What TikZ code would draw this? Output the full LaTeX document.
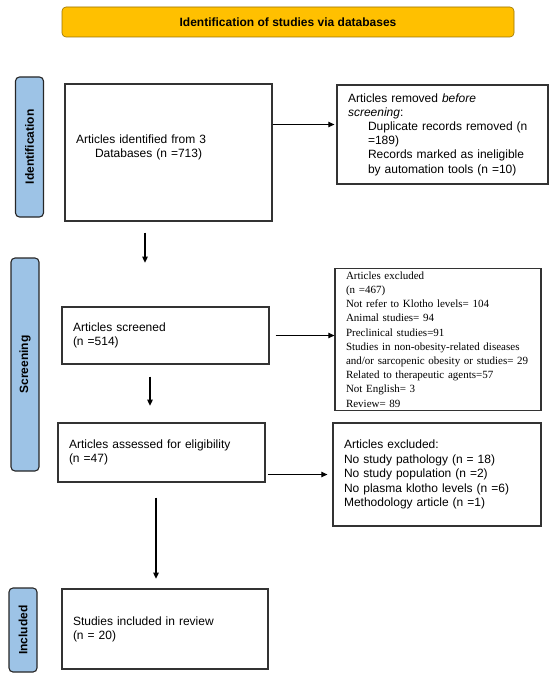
\documentclass[tikz,border=0pt]{standalone}
\usepackage{fontspec}
\setmainfont{Liberation Sans}
\newfontfamily\timesfont{Liberation Serif}
\usetikzlibrary{arrows.meta}
\definecolor{bannerorange}{HTML}{FFC000}
\definecolor{stageblue}{HTML}{9DC3E6}
\begin{document}
\begin{tikzpicture}[x=1pt,y=-1pt,
  box/.style={draw=black!80,line width=1.3pt,inner xsep=11pt,align=left,font=\fontsize{12}{14.2}\selectfont},
  stage/.style={draw=black!85,line width=1.1pt,fill=stageblue,rounded corners=4pt,rotate=90,minimum height=28pt,font=\bfseries\fontsize{12}{14}\selectfont},
  flow/.style={line width=1.1pt,-{Triangle[length=6pt,width=5.5pt]}}]
\useasboundingbox (0,0) rectangle (550,679);
\node[draw=bannerorange!60!black,line width=0.6pt,fill=bannerorange,rounded corners=4pt,minimum width=452pt,minimum height=30pt,font=\bfseries\fontsize{12}{14}\selectfont] (banner) at (288,22) {Identification of studies via databases};
\node[stage,minimum width=140pt] (idstage) at (29.5,147) {Identification};
\node[stage,minimum width=213pt] (scrstage) at (25,364.5) {Screening};
\node[stage,minimum width=84pt] (incstage) at (23,630) {Included};
\node[box,text width=185pt,minimum height=137pt] (ident) at (168.5,152.5) {Articles identified from 3\\\hspace*{19pt}Databases (n =713)\\[-2pt]\mbox{}};
\node[box,text width=189pt,minimum height=99pt] (removed) at (442.5,134.5) {Articles removed \textit{before}\\\textit{screening}:\\\hspace*{20pt}Duplicate records removed (n\\\hspace*{20pt}=189)\\\hspace*{20pt}Records marked as ineligible\\\hspace*{20pt}by automation tools (n =10)};
\node[box,text width=185pt,minimum height=57pt] (screened) at (165.5,335.5) {Articles screened\\(n =514)};
\node[box,text width=184pt,minimum height=139pt,font=\timesfont\fontsize{11}{14.2}\selectfont] (excl1) at (438,339.5) {Articles excluded\\(n =467)\\Not refer to Klotho levels= 104\\Animal studies= 94\\Preclinical studies=91\\Studies in non-obesity-related diseases\\and/or sarcopenic obesity or studies= 29\\Related to therapeutic agents=57\\Not English= 3\\Review= 89};
\node[box,text width=185pt,minimum height=59pt] (elig) at (161.5,452.5) {Articles assessed for eligibility\\(n =47)};
\node[box,text width=186pt,minimum height=103pt,font=\fontsize{12}{14.5}\selectfont] (excl2) at (437,474.5) {Articles excluded:\\No study pathology (n = 18)\\No study population (n =2)\\No plasma klotho levels (n =6)\\Methodology article (n =1)};
\node[box,text width=184pt,minimum height=80pt] (incl) at (165,629) {Studies included in review\\(n = 20)};
\coordinate (idout) at ([yshift=28pt]ident.east);
\draw[flow,shorten >=2pt] (idout) -- (idout -| removed.west);
\draw[flow,shorten <=6pt] (screened.east) -- (screened.east -| excl1.west);
\draw[flow,shorten <=2pt,shorten >=5pt] (elig.east |- excl2.west) -- (excl2.west);
\draw[flow] ([xshift=-23.5pt,yshift=-11pt]ident.south) -- ++(0,30);
\draw[flow] ([xshift=-15.5pt,yshift=-12pt]screened.south) -- ++(0,29);
\draw[flow] ([xshift=-5.5pt,yshift=-15pt]elig.south) -- ++(0,81);
\end{tikzpicture}
\end{document}
